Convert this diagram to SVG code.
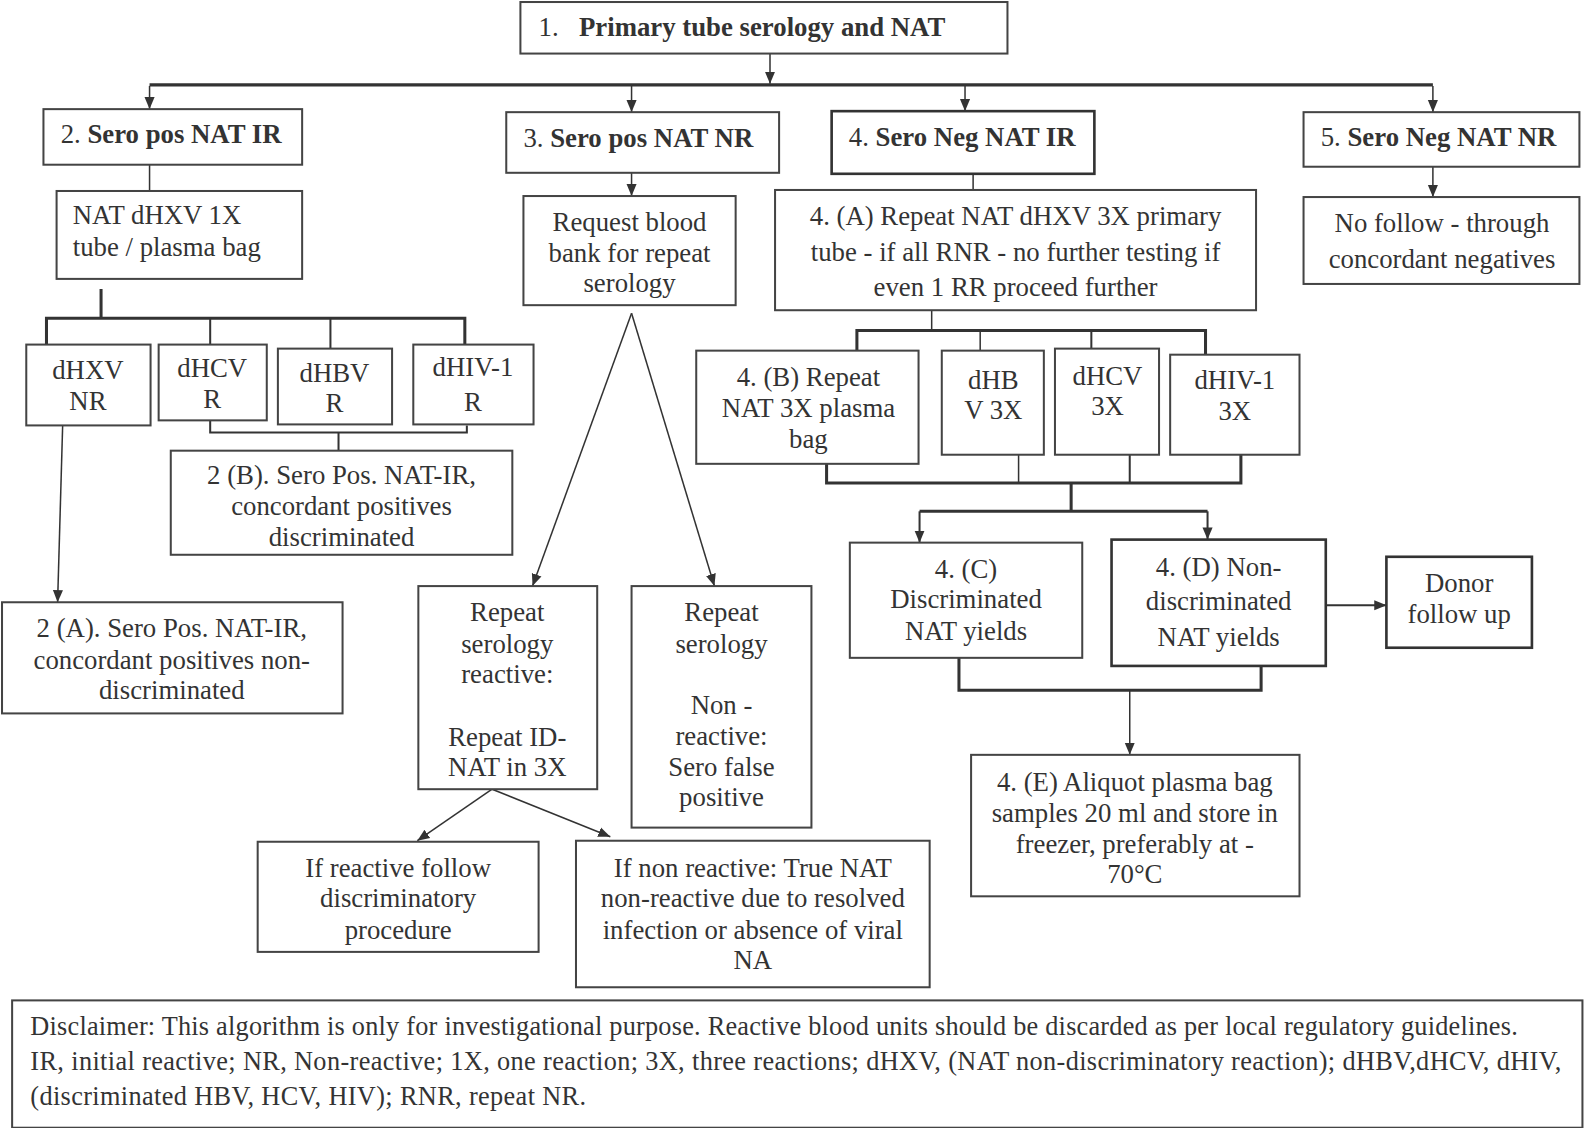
<svg xmlns="http://www.w3.org/2000/svg" width="1584" height="1128" viewBox="0 0 1584 1128">
<defs>
<marker id="ah" markerUnits="userSpaceOnUse" viewBox="0 0 12 12" markerWidth="12" markerHeight="12" refX="12" refY="6" orient="auto"><path d="M0,1 L12,6 L0,11 z" fill="#333"/></marker>
<style>
.b{fill:#fff;stroke:#444;stroke-width:2}
.bb{fill:#fff;stroke:#333;stroke-width:2.6}
.t{font-family:"Liberation Serif","Times New Roman",serif;font-size:26.5px;fill:#333;text-anchor:middle}
.tl{font-family:"Liberation Serif","Times New Roman",serif;font-size:26.5px;fill:#333}
.bold{font-weight:bold}
.d{font-family:"Liberation Serif","Times New Roman",serif;font-size:26px;fill:#333}
.c{stroke:#333;stroke-width:1.5;fill:none}
.c2{stroke:#333;stroke-width:2;fill:none}
.k{stroke:#333;stroke-width:3;fill:none}
</style>
</defs>
<rect width="1584" height="1128" fill="#fff"/>
<g id="diagram" transform="scale(1.0105)">
<g id="connectors">
<line class="c" x1="762" y1="53" x2="762" y2="83" marker-end="url(#ah)"/>
<line class="k" x1="148" y1="84" x2="1418" y2="84"/>
<line class="c" x1="148" y1="85" x2="148" y2="108" marker-end="url(#ah)"/>
<line class="c" x1="625" y1="85" x2="625" y2="111" marker-end="url(#ah)"/>
<line class="c" x1="955" y1="85" x2="955" y2="110" marker-end="url(#ah)"/>
<line class="c" x1="1418" y1="85" x2="1418" y2="111" marker-end="url(#ah)"/>
<line class="c" x1="148" y1="163" x2="148" y2="189"/>
<line class="k" x1="100" y1="286" x2="100" y2="315"/>
<polyline class="k" points="46,341 46,315 460,315 460,341"/>
<line class="c2" x1="208" y1="315" x2="208" y2="341"/>
<line class="c2" x1="327" y1="315" x2="327" y2="345"/>
<polyline class="c2" points="208,416 208,428 462,428 462,421"/>
<line class="c2" x1="335" y1="428" x2="335" y2="446"/>
<line class="c" x1="62" y1="421" x2="57" y2="596" marker-end="url(#ah)"/>
<line class="c" x1="625" y1="171" x2="625" y2="194" marker-end="url(#ah)"/>
<line class="c" x1="625" y1="310" x2="527" y2="580" marker-end="url(#ah)"/>
<line class="c" x1="625" y1="310" x2="707" y2="580" marker-end="url(#ah)"/>
<line class="c" x1="487" y1="781" x2="413" y2="832" marker-end="url(#ah)"/>
<line class="c" x1="487" y1="781" x2="604" y2="828" marker-end="url(#ah)"/>
<line class="c" x1="963" y1="172" x2="963" y2="188"/>
<line class="c" x1="922" y1="307" x2="922" y2="327"/>
<polyline class="k" points="848,347 848,327 1193,327 1193,351"/>
<line class="c" x1="970" y1="327" x2="970" y2="347"/>
<line class="c2" x1="1080" y1="327" x2="1080" y2="345"/>
<polyline class="k" points="818,459 818,478 1228,478 1228,450"/>
<line class="c" x1="1008" y1="450" x2="1008" y2="478"/>
<line class="c2" x1="1118" y1="450" x2="1118" y2="478"/>
<line class="k" x1="1060" y1="478" x2="1060" y2="506"/>
<line class="k" x1="910" y1="506" x2="1195" y2="506"/>
<line class="c2" x1="910" y1="506" x2="910" y2="537" marker-end="url(#ah)"/>
<line class="c2" x1="1195" y1="506" x2="1195" y2="534" marker-end="url(#ah)"/>
<polyline class="k" points="949,651 949,683 1248,683 1248,659"/>
<line class="c" x1="1118" y1="683" x2="1118" y2="747" marker-end="url(#ah)"/>
<line class="c2" x1="1312" y1="599" x2="1372" y2="599" marker-end="url(#ah)"/>
<line class="c" x1="1418" y1="165" x2="1418" y2="195" marker-end="url(#ah)"/>
</g>
<g id="n1"><rect class="b" x="515" y="2" width="482" height="51"/><text class="tl" y="36"><tspan x="533">1.</tspan><tspan x="573" class="bold">Primary tube serology and NAT</tspan></text></g>
<g id="n2"><rect class="b" x="43" y="108" width="256" height="55"/><text class="tl" x="60" y="142">2. <tspan class="bold">Sero pos NAT IR</tspan></text></g>
<g id="n3"><rect class="b" x="501" y="111" width="270" height="60"/><text class="tl" x="518" y="145">3. <tspan class="bold">Sero pos NAT NR</tspan></text></g>
<g id="n4"><rect class="bb" x="823" y="110" width="260" height="62"/><text class="tl" x="840" y="144">4. <tspan class="bold">Sero Neg NAT IR</tspan></text></g>
<g id="n5"><rect class="b" x="1290" y="111" width="273" height="54"/><text class="tl" x="1307" y="144">5. <tspan class="bold">Sero Neg NAT NR</tspan></text></g>
<g id="n2nat"><rect class="b" x="56" y="189" width="243" height="87"/><text class="tl" x="72" y="222">NAT dHXV 1X</text><text class="tl" x="72" y="253">tube / plasma bag</text></g>
<g id="n2xv"><rect class="b" x="26" y="341" width="123" height="80"/><text class="t" x="87" y="375">dHXV</text><text class="t" x="87" y="406">NR</text></g>
<g id="n2cv"><rect class="b" x="157" y="341" width="107" height="75"/><text class="t" x="210" y="373">dHCV</text><text class="t" x="210" y="404">R</text></g>
<g id="n2bv"><rect class="b" x="275" y="345" width="113" height="75"/><text class="t" x="331" y="378">dHBV</text><text class="t" x="331" y="408">R</text></g>
<g id="n2iv"><rect class="b" x="409" y="341" width="119" height="79"/><text class="t" x="468" y="372">dHIV-1</text><text class="t" x="468" y="407">R</text></g>
<g id="n2b"><rect class="b" x="169" y="446" width="338" height="103"/><text class="t" x="338" y="479">2 (B). Sero Pos. NAT-IR,</text><text class="t" x="338" y="510">concordant positives</text><text class="t" x="338" y="540">discriminated</text></g>
<g id="n2a"><rect class="b" x="2" y="596" width="337" height="110"/><text class="t" x="170" y="630">2 (A). Sero Pos. NAT-IR,</text><text class="t" x="170" y="662">concordant positives non-</text><text class="t" x="170" y="692">discriminated</text></g>
<g id="n3req"><rect class="b" x="518" y="194" width="210" height="108"/><text class="t" x="623" y="229">Request blood</text><text class="t" x="623" y="259">bank for repeat</text><text class="t" x="623" y="289">serology</text></g>
<g id="n3r"><rect class="b" x="414" y="580" width="177" height="201"/><text class="t" x="502" y="615">Repeat</text><text class="t" x="502" y="646">serology</text><text class="t" x="502" y="676">reactive:</text><text class="t" x="502" y="738">Repeat ID-</text><text class="t" x="502" y="768">NAT in 3X</text></g>
<g id="n3nr"><rect class="b" x="625" y="580" width="178" height="239"/><text class="t" x="714" y="615">Repeat</text><text class="t" x="714" y="646">serology</text><text class="t" x="714" y="707">Non -</text><text class="t" x="714" y="737">reactive:</text><text class="t" x="714" y="768">Sero false</text><text class="t" x="714" y="798">positive</text></g>
<g id="n3ifr"><rect class="b" x="255" y="833" width="278" height="109"/><text class="t" x="394" y="868">If reactive follow</text><text class="t" x="394" y="898">discriminatory</text><text class="t" x="394" y="929">procedure</text></g>
<g id="n3ifn"><rect class="b" x="570" y="832" width="350" height="145"/><text class="t" x="745" y="868">If non reactive: True NAT</text><text class="t" x="745" y="898">non-reactive due to resolved</text><text class="t" x="745" y="929">infection or absence of viral</text><text class="t" x="745" y="959">NA</text></g>
<g id="n4a"><rect class="b" x="767" y="188" width="476" height="119"/><text class="t" x="1005" y="223">4. (A) Repeat NAT dHXV 3X primary</text><text class="t" x="1005" y="258">tube - if all RNR - no further testing if</text><text class="t" x="1005" y="293">even 1 RR proceed further</text></g>
<g id="n4b"><rect class="b" x="689" y="347" width="220" height="112"/><text class="t" x="800" y="382">4. (B) Repeat</text><text class="t" x="800" y="413">NAT 3X plasma</text><text class="t" x="800" y="443">bag</text></g>
<g id="n4hb"><rect class="b" x="932" y="347" width="101" height="103"/><text class="t" x="983" y="385">dHB</text><text class="t" x="983" y="415">V 3X</text></g>
<g id="n4hc"><rect class="b" x="1044" y="345" width="103" height="105"/><text class="t" x="1096" y="381">dHCV</text><text class="t" x="1096" y="411">3X</text></g>
<g id="n4hi"><rect class="b" x="1158" y="351" width="128" height="99"/><text class="t" x="1222" y="385">dHIV-1</text><text class="t" x="1222" y="416">3X</text></g>
<g id="n4c"><rect class="b" x="841" y="537" width="230" height="114"/><text class="t" x="956" y="572">4. (C)</text><text class="t" x="956" y="602">Discriminated</text><text class="t" x="956" y="633">NAT yields</text></g>
<g id="n4d"><rect class="bb" x="1100" y="534" width="212" height="125"/><text class="t" x="1206" y="570">4. (D) Non-</text><text class="t" x="1206" y="604">discriminated</text><text class="t" x="1206" y="639">NAT yields</text></g>
<g id="n4donor"><rect class="bb" x="1372" y="551" width="144" height="90"/><text class="t" x="1444" y="586">Donor</text><text class="t" x="1444" y="617">follow up</text></g>
<g id="n4e"><rect class="b" x="961" y="747" width="325" height="140"/><text class="t" x="1123" y="783">4. (E) Aliquot plasma bag</text><text class="t" x="1123" y="813">samples 20 ml and store in</text><text class="t" x="1123" y="844">freezer, preferably at -</text><text class="t" x="1123" y="874">70°C</text></g>
<g id="n5nf"><rect class="b" x="1290" y="195" width="273" height="86"/><text class="t" x="1427" y="230">No follow - through</text><text class="t" x="1427" y="265">concordant negatives</text></g>
<g id="disclaimer"><rect class="b" x="12" y="990" width="1554" height="126"/><text class="d" x="30" y="1024" textLength="1472">Disclaimer: This algorithm is only for investigational purpose. Reactive blood units should be discarded as per local regulatory guidelines.</text><text class="d" x="30" y="1059" textLength="1515">IR, initial reactive; NR, Non-reactive; 1X, one reaction; 3X, three reactions; dHXV, (NAT non-discriminatory reaction); dHBV,dHCV, dHIV,</text><text class="d" x="30" y="1094" textLength="550">(discriminated HBV, HCV, HIV); RNR, repeat NR.</text></g>
</g>
</svg>
